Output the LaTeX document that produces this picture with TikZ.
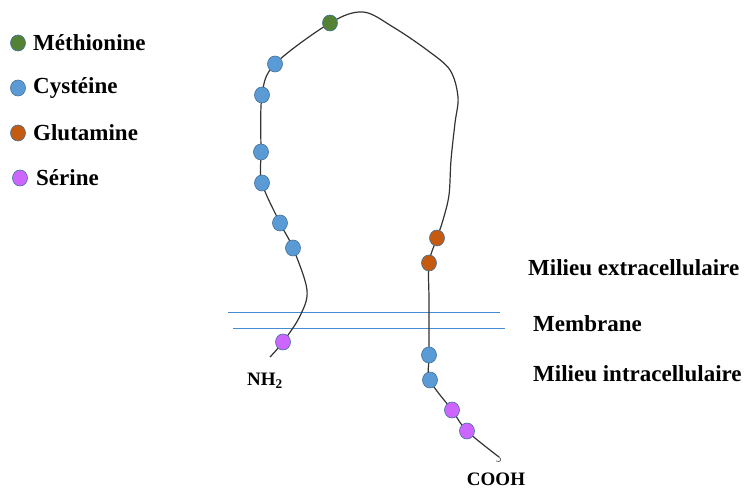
\documentclass[tikz,border=0pt]{standalone}
\usepackage{fontspec}
\setmainfont{Liberation Serif}
\usetikzlibrary{shapes.geometric}
\definecolor{cgreen}{RGB}{84,130,53}
\definecolor{cblue}{RGB}{91,155,213}
\definecolor{corange}{RGB}{197,90,17}
\definecolor{cpurple}{RGB}{204,102,255}
\definecolor{cedge}{RGB}{65,113,156}
\definecolor{cmem}{RGB}{70,140,210}
\tikzset{
  dot/.style={ellipse, draw=cedge, line width=0.6pt, minimum width=15pt, minimum height=16pt, inner sep=0pt},
  met/.style={dot, fill=cgreen},
  cys/.style={dot, fill=cblue},
  glu/.style={dot, fill=corange},
  ser/.style={dot, fill=cpurple},
  lab/.style={font=\fontsize{23}{27}\selectfont\bfseries, anchor=west, inner sep=0pt},
  small/.style={font=\fontsize{19}{22}\selectfont\bfseries, inner sep=0pt},
  chain/.style={line width=1.2pt, draw=black!80},
  mem/.style={line width=1pt, draw=cmem}
}
\begin{document}
\begin{tikzpicture}[x=1pt,y=-1pt]
\useasboundingbox (0,0) rectangle (745,489);
% positions
\coordinate (n0) at (270,357);
\coordinate (s1) at (283,342);
\coordinate (q1) at (300,316);
\coordinate (q2) at (307,290);
\coordinate (c6) at (293,248);
\coordinate (c5) at (280,223);
\coordinate (c4) at (262,183);
\coordinate (c3) at (261,152);
\coordinate (c2) at (262,95);
\coordinate (c1) at (275,64);
\coordinate (m1) at (330,23);
\coordinate (t1) at (363,12);
\coordinate (t2) at (393,27);
\coordinate (t3) at (427,50);
\coordinate (t4) at (450,70);
\coordinate (t5) at (458,97);
\coordinate (t6) at (455,123);
\coordinate (t7) at (451,160);
\coordinate (t8) at (449,195);
\coordinate (t9) at (443,220);
\coordinate (g1) at (437,238);
\coordinate (g2) at (429,263);
\coordinate (r1) at (429,300);
\coordinate (c7) at (429,355);
\coordinate (c8) at (430,380);
\coordinate (s2) at (452,410);
\coordinate (s3) at (467,431);
\coordinate (e1) at (499,457);
% membrane
\coordinate (ma1) at (228,313);
\coordinate (ma2) at (500,313);
\coordinate (mb1) at (233,329);
\coordinate (mb2) at (505,329);
\draw[mem] (ma1) -- (ma2);
\draw[mem] (mb1) -- (mb2);
% chain
\draw[chain] plot[smooth, tension=0.55] coordinates {(n0) (s1) (q1) (q2) (c6) (c5) (c4) (c3) (c2) (c1) (m1) (t1) (t2) (t3) (t4) (t5) (t6) (t7) (t8) (t9) (g1) (g2) (r1) (c7) (c8) (s2) (s3) (e1)};
\draw[line width=0.8pt, draw=black!60] (e1) .. controls (502,459) and (501,463) .. (496,461);
% residues
\node[ser] (S1) at (s1) {};
\node[cys] (C6) at (c6) {};
\node[cys] (C5) at (c5) {};
\node[cys] (C4) at (c4) {};
\node[cys] (C3) at (c3) {};
\node[cys] (C2) at (c2) {};
\node[cys] (C1) at (c1) {};
\node[met] (M1) at (m1) {};
\node[glu] (G1) at (g1) {};
\node[glu] (G2) at (g2) {};
\node[cys] (C7) at (c7) {};
\node[cys] (C8) at (c8) {};
\node[ser] (S2) at (s2) {};
\node[ser] (S3) at (s3) {};
% end labels
\node[small] (nh2) at (265,381) {NH\textsubscript{2}};
\node[small] (cooh) at (496,479) {COOH};
% region labels
\node[lab] (ext) at (528,268) {Milieu extracellulaire};
\node[lab] (memb) at (533,324) {Membrane};
\node[lab] (int) at (533,374) {Milieu intracellulaire};
% legend
\node[met] (L1) at (18,43) {};
\node[lab] (L1t) at (33,43) {Méthionine};
\node[cys] (L2) at (18,88) {};
\node[lab] (L2t) at (33,88) {Cystéine};
\node[glu] (L3) at (18,133) {};
\node[lab] (L3t) at (33,133) {Glutamine};
\node[ser] (L4) at (20,178) {};
\node[lab] (L4t) at (36,178) {Sérine};
\end{tikzpicture}
\end{document}
